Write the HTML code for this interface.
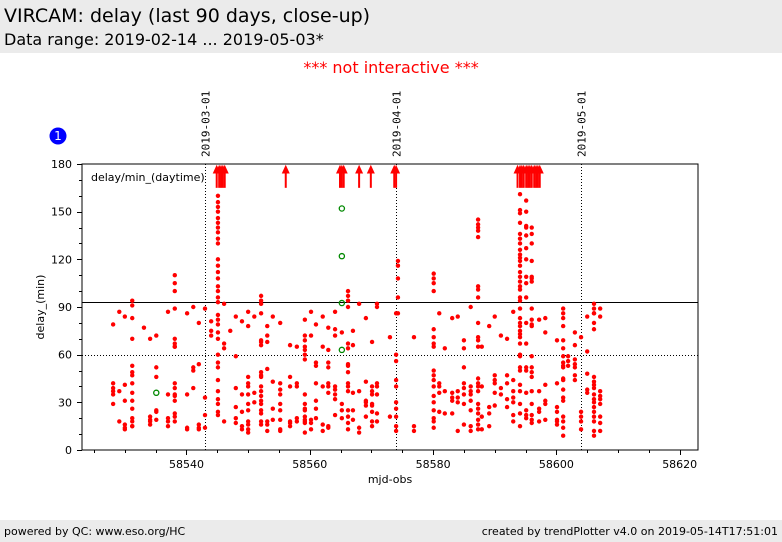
<!DOCTYPE html>
<html><head><meta charset="utf-8"><style>
body{margin:0;width:782px;height:542px;background:#fff;position:relative;overflow:hidden;font-family:"DejaVu Sans","Liberation Sans",sans-serif}
.hdr{position:absolute;left:0;top:0;width:782px;height:53px;background:#ebebeb}
.ftr{position:absolute;left:0;top:520px;width:782px;height:22px;background:#ebebeb;font-size:11px}
</style></head><body>
<div class="hdr">
<div style="position:absolute;left:4px;top:5px;font-size:19px;color:#000">VIRCAM: delay (last 90 days, close-up)</div>
<div style="position:absolute;left:4px;top:30px;font-size:16px;color:#000">Data range: 2019-02-14 ... 2019-05-03*</div>
</div>
<div style="position:absolute;left:0;width:782px;top:58px;text-align:center;font-size:16px;color:#f00">*** not interactive ***</div>
<div class="ftr">
<span style="position:absolute;left:4px;top:5px">powered by QC: www.eso.org/HC</span>
<span style="position:absolute;right:4px;top:5px">created by trendPlotter v4.0 on 2019-05-14T17:51:01</span>
</div>
<svg id="chart" width="782" height="542" style="position:absolute;left:0;top:0" xmlns="http://www.w3.org/2000/svg"></svg>
<script>
const xDomain=[58523.05,58622.97];
const yDomain=[0,180];
const xTicks=[58540,58560,58580,58600,58620];
const yTicks=[0,30,60,90,120,150,180];
const dateLines=[58543,58574,58604];
const dateLabels=["2019-03-01","2019-04-01","2019-05-01"];
const refSolid=93;
const refDotted=60;
const colDays=[58528.1,58529.1,58530.0,58531.2,58533.1,58534.1,58535.1,58537.0,58538.1,58540.1,58541.1,58542.0,58543.0,58544.0,58545.1,58546.1,58547.1,58548.0,58549.0,58550.0,58551.0,58552.1,58553.1,58554.0,58555.2,58556.8,58557.9,58559.2,58560.2,58561.0,58562.1,58563.0,58564.1,58565.2,58566.2,58567.0,58568.0,58569.1,58570.1,58570.9,58573.0,58574.0,58574.3,58576.9,58580.1,58581.0,58581.9,58583.1,58584.0,58585.0,58586.1,58587.3,58587.9,58589.1,58590.0,58591.0,58592.0,58593.0,58594.1,58595.1,58596.0,58597.2,58598.2,58600.1,58601.1,58601.9,58603.0,58604.0,58605.0,58606.1,58607.1];
const colDelays=[
[79,42,39,37,35,29],[87,37,18],[84,41,31,16,14,13],
[94,91,83,70,53,49,47,42,36,31,26,20,18,15,15],[77],[70,21,19,18,16],[72,52,46,25,24,19],
[87,35,20,18,15],[110,105,100,89,70,67,65,65,42,39,35,34,31,23,21,18],[86,35,14,13],
[90,52,50,39],[80,54,16,14,13],[89,33,22,14],[81,75,72],
[160,156,153,150,146,143,140,137,133,130,120,116,112,108,103,100,96,93,85,82,79,74,70,60,55,52,44,37,32,29,24,22],
[92,67,64,18],[75],[84,59,39,27,20,17],[81,35,24,15,13],
[87,78,46,42,40,35,29,25,18,16,13,11],[84,36,30],
[97,94,92,86,69,68,66,49,47,46,40,37,34,31,29,25,23,18,16],[78,72,68,51,18,16,12],[84,43,26,19],
[80,42,38,35,29,25,19,13,12],[66,46,40,18,15,17],[65,42,40,20,18],
[82,72,69,65,63,60,57,35,29,26,25,21,19,18,17,11],[87,72,19,17,13],[79,55,53,42,31,26,20],
[84,65,40,16,12],[77,63,55,52,42,40,36,14,15],[87,76,72,40,38,35,32,22],
[74,29,25,20],[100,97,94,90,67,64,54,53,49,42,40,37,25,21,17,13],[75,66,36,25,19],
[92,37,14,11],[83,43,31,30,28,21],[68,40,37,35,29,28,24,18,15],[92,90,42,40,35,23,18],
[71,21],[86,60,56,44,40,30,26,21,15,12],[119,116,108,96,86],[71,15,12],
[111,108,105,100,76,71,67,65,50,47,44,40,34,30,25,20,18,14],[86,42,40,36,24],[64,37,23],
[83,36,33,31,23],[84,37,33,30,12],[69,64,52,42,39,35,29,16],[90,40,37,35,31,25,15,12],
[145,142,140,138,134,103,101,96,80,71,69,65,45,42,40,37,29,26,23,19,16,13],[65,40,21,13],
[78,27,23,15],[84,47,44,42,36,28],[72,39,35],[70,47,42,32,27],[87,44,37,33,30,22,18],
[161,151,149,143,136,133,130,126,123,121,119,116,112,109,106,103,101,96,94,89,83,80,78,75,73,71,67,60,59,52,50,41,37,29,23,15],
[157,150,141,140,135,127,120,109,105,96,80,67,52,50,36,25,22,20],
[140,136,130,119,109,108,106,89,82,79,78,59,52,49,46,37,29,22,19,17],
[82,37,26,24,18],[83,74,41,31,29,19],[69,42,27,24,19,18,16],
[89,86,83,78,69,64,59,55,53,52,45,44,38,33,31,21,18,14,9],[59,56,53],
[74,66,57,54,52,47,44],[71,24,21,18,13],[84,62,48,38,36],
[92,89,86,86,80,76,46,43,41,39,35,32,30,27,24,21,18,12,9],[89,84,37,34,32,29,21,17,12]
];
const arrowDays=[58544.9,58545.3,58545.6,58545.9,58546.2,58556.1,58564.9,58565.2,58565.5,58568.0,58569.9,58573.7,58574.0,58593.7,58594.1,58594.4,58594.7,58595.1,58595.4,58595.7,58596.0,58596.4,58596.7,58597.0,58597.3];
const greenDays=[58535.1,58565.2,58565.2,58565.2,58565.2];
const greenDelays=[36,152,122,92.5,63];

const L=82,R=698,T=164,B=450;
const sx=v=>L+(v-xDomain[0])/(xDomain[1]-xDomain[0])*(R-L);
const sy=v=>B-(v-yDomain[0])/(yDomain[1]-yDomain[0])*(B-T);
const svg=document.getElementById('chart');
const NS="http://www.w3.org/2000/svg";
function mk(tag,attrs,parent){const e=document.createElementNS(NS,tag);for(const k in attrs)e.setAttribute(k,attrs[k]);(parent||svg).appendChild(e);return e;}

// plot frame
const frame=mk('rect',{x:L,y:T,width:R-L,height:B-T,fill:'none',stroke:'#000','stroke-width':1});



// date lines + labels
dateLines.forEach((d,i)=>{
  const x=Math.round(sx(d))+0.5;
  const ln=mk('line',{x1:x,x2:x,y1:T,y2:B,stroke:'#000','stroke-width':1,'stroke-dasharray':'1,2'});
  
  
  const t=mk('text',{x:0,y:0,transform:`translate(${x+4},157) rotate(-90)`,'font-size':11,'font-family':'"DejaVu Sans Mono","Liberation Mono",monospace',fill:'#000'});
  t.textContent=dateLabels[i];
  
  
});

// reference lines
const rs=mk('line',{x1:L,x2:R,y1:Math.round(sy(refSolid))+0.5,y2:Math.round(sy(refSolid))+0.5,stroke:'#000','stroke-width':1});


const rd=mk('line',{x1:L,x2:R,y1:Math.round(sy(refDotted))+0.5,y2:Math.round(sy(refDotted))+0.5,stroke:'#000','stroke-width':1,'stroke-dasharray':'1,2'});



// x ticks
for(let v=58525;v<=58620;v+=5){
  const x=Math.round(sx(v))+0.5;const major=xTicks.includes(v);
  const tk=mk('line',{x1:x,x2:x,y1:B,y2:B+(major?5:3),stroke:'#000'});
  
  
}
xTicks.forEach(v=>{
  const t=mk('text',{x:sx(v),y:468,'text-anchor':'middle','font-size':11,fill:'#000'});
  t.textContent=v;
  
  
});
for(let v=0;v<=180;v+=10){
  const y=Math.round(sy(v))+0.5;const major=v%30===0;
  const tk=mk('line',{x1:L-(major?5:3),x2:L,y1:y,y2:y,stroke:'#000'});
  
  
}
yTicks.forEach(v=>{
  const t=mk('text',{x:72,y:sy(v)+4,'text-anchor':'end','font-size':11,fill:'#000'});
  t.textContent=v;
  
  
});
const xt=mk('text',{x:390,y:483,'text-anchor':'middle','font-size':11,fill:'#000'});
xt.textContent='mjd-obs';


const yt=mk('text',{x:0,y:0,transform:'translate(44,307) rotate(-90)','text-anchor':'middle','font-size':11,fill:'#000'});
yt.textContent='delay_(min)';


const lg=mk('text',{x:91,y:181,'font-size':11,fill:'#000'});
lg.textContent='delay/min_(daytime)';



// points
colDays.forEach((d,i)=>{
  colDelays[i].forEach(v=>{
    const c=mk('circle',{cx:sx(d),cy:sy(v),r:2.2,fill:'#f00'});
    
    
  });
});
arrowDays.forEach(d=>{
  const x=sx(d);
  const g=mk('g',{});
  
  
  mk('line',{x1:x,x2:x,y1:sy(165),y2:sy(176),stroke:'#f00','stroke-width':2},g);
  mk('polygon',{points:`${x-4},${sy(174)} ${x+4},${sy(174)} ${x},${sy(179.5)}`,fill:'#f00'},g);
});
greenDays.forEach((d,i)=>{
  const c=mk('circle',{cx:sx(d),cy:sy(greenDelays[i]),r:2.6,fill:'none',stroke:'#080','stroke-width':1.3});
  
  
});
// badge
const bc=mk('circle',{cx:58,cy:136,r:8.5,fill:'#00f'});


const bt=mk('text',{x:58,y:140,'text-anchor':'middle','font-size':12,fill:'#fff'});
bt.textContent='1';


</script>
</body></html>
